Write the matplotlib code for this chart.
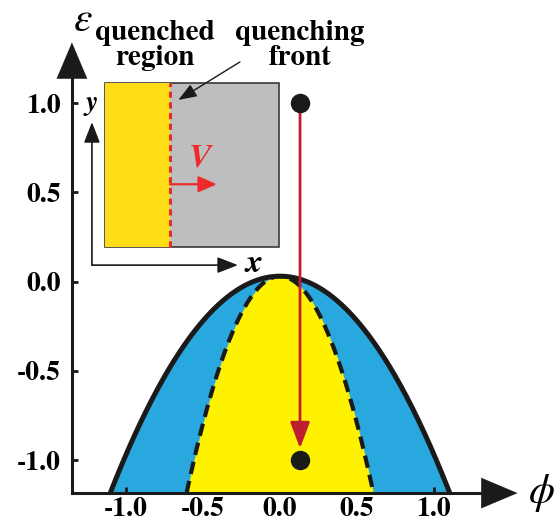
import numpy as np
import matplotlib
matplotlib.use("Agg")
import matplotlib.pyplot as plt
from matplotlib.patches import Rectangle

plt.rcParams['font.family'] = ['STIXGeneral', 'DejaVu Serif']
plt.rcParams['mathtext.fontset'] = 'stix'

# phase diagram: binodal / spinodal  eps = top - k*phi^2
eps_top = 0.03
k_binodal = 1.0
k_spinodal = 3.3
eps_floor = -1.185

# quench path
quench_phi = 0.13
quench_eps = [1.0, -1.0]

xticks = [-1.0, -0.5, 0.0, 0.5, 1.0]
yticks = [-1.0, -0.5, 0.0, 0.5, 1.0]
ticklabels = ["-1.0", "-0.5", "0.0", "0.5", "1.0"]

blue = "#29a8df"
yellow = "#fff200"
red = "#be1e2d"
ink = "#1a1a1a"

fig = plt.figure(figsize=(5.54, 5.22), dpi=100)
ax = fig.add_axes([0, 0, 1, 1])
ax.set_xlim(-1.818, 1.779)
ax.set_ylim(-1.347, 1.577)

# curves
phi_b = np.sqrt((eps_top - eps_floor) / k_binodal)
phi_s = np.sqrt((eps_top - eps_floor) / k_spinodal)
pb = np.linspace(-phi_b, phi_b, 400)
ps = np.linspace(-phi_s, phi_s, 400)
eb = eps_top - k_binodal * pb**2
es = eps_top - k_spinodal * ps**2
ax.fill_between(pb, eps_floor, eb, color=blue, lw=0, zorder=1)
ax.fill_between(ps, eps_floor, es, color=yellow, lw=0, zorder=2)
ax.plot(pb, eb, color=ink, lw=3.6, zorder=3, solid_capstyle='butt')
ax.plot(ps, es, color=ink, lw=3.0, ls=(0, (3.0, 1.7)), zorder=3)

# axes as arrows
x0 = -1.351
ax.spines['left'].set_position(('data', x0))
ax.spines['bottom'].set_position(('data', eps_floor))
ax.spines['left'].set_bounds(eps_floor, 1.30)
ax.spines['bottom'].set_bounds(x0, 1.50)
for s in ['left', 'bottom']:
    ax.spines[s].set_linewidth(2.2)
    ax.spines[s].set_color(ink)
    ax.spines[s].set_zorder(5)
ax.spines['top'].set_visible(False)
ax.spines['right'].set_visible(False)
ax.annotate("", xy=(x0, 1.355), xytext=(x0, 1.20),
            arrowprops=dict(arrowstyle="-|>,head_length=1.3,head_width=0.55",
                            color=ink, lw=0.1, mutation_scale=20))
ax.annotate("", xy=(1.56, eps_floor), xytext=(1.40, eps_floor),
            arrowprops=dict(arrowstyle="-|>,head_length=1.3,head_width=0.55",
                            color=ink, lw=0.1, mutation_scale=20))

ax.set_xticks(xticks)
ax.set_xticklabels(ticklabels, fontweight='bold', fontsize=20)
ax.set_yticks(yticks)
ax.set_yticklabels(ticklabels, fontweight='bold', fontsize=20)
ax.tick_params(direction='in', length=4, width=2, color=ink)
ax.tick_params(axis='x', pad=3)
ax.tick_params(axis='y', pad=8)

ax.text(-1.28, 1.46, r"$\varepsilon$", fontsize=30, ha='center', va='center')
ax.text(1.70, eps_floor, r"$\phi$", fontsize=30, ha='center', va='center')

# quench path
ax.annotate("", xy=(quench_phi, quench_eps[1] + 0.05),
            xytext=(quench_phi, quench_eps[0]),
            arrowprops=dict(arrowstyle="-|>,head_length=0.8,head_width=0.3",
                            color=red, lw=2.0, mutation_scale=20), zorder=6)
ax.plot([quench_phi] * 2, quench_eps, 'o', color=ink, ms=13, zorder=7)

# inset sketch
ax.add_patch(Rectangle((-1.136, 0.193), 1.13, 0.919, facecolor="#bcbec0",
                       edgecolor="#3a3a3a", lw=1.2, zorder=4))
ax.add_patch(Rectangle((-1.136, 0.193), 0.422, 0.919, facecolor="#fedd16",
                       edgecolor='none', zorder=4))
ax.plot([-0.714, -0.714], [0.193, 1.112], color="#ee2a2a", lw=2.2,
        ls=(0, (2, 1.5)), zorder=5)
ax.annotate("", xy=(-1.221, 0.893), xytext=(-1.221, 0.092),
            arrowprops=dict(arrowstyle="-|>,head_length=0.9,head_width=0.35",
                            color=ink, lw=1.2, mutation_scale=14,
                            shrinkA=0, shrinkB=0))
ax.annotate("", xy=(-0.273, 0.092), xytext=(-1.221, 0.092),
            arrowprops=dict(arrowstyle="-|>,head_length=0.9,head_width=0.35",
                            color=ink, lw=1.2, mutation_scale=14,
                            shrinkA=0, shrinkB=0))
ax.text(-1.22, 1.0, "y", style='italic', fontweight='bold', fontsize=20,
        ha='center', va='center')
ax.text(-0.17, 0.10, "x", style='italic', fontweight='bold', fontsize=24,
        ha='center', va='center')
ax.text(-0.52, 0.69, "V", style='italic', fontweight='bold', fontsize=24,
        color="#ee2a2a", ha='center', va='center', zorder=6)
ax.annotate("", xy=(-0.41, 0.545), xytext=(-0.714, 0.545),
            arrowprops=dict(arrowstyle="-|>,head_length=0.8,head_width=0.35",
                            color="#ee2a2a", lw=1.6, mutation_scale=14,
                            shrinkA=0, shrinkB=0), zorder=6)

ax.text(-0.81, 1.32, "quenched\nregion", fontsize=21, fontweight='bold',
        ha='center', va='center', linespacing=0.95)
ax.text(0.13, 1.32, "quenching\nfront", fontsize=21, fontweight='bold',
        ha='center', va='center', linespacing=0.95)
ax.annotate("", xy=(-0.66, 1.017), xytext=(-0.26, 1.23),
            arrowprops=dict(arrowstyle="-|>,head_length=0.8,head_width=0.3",
                            color=ink, lw=1.0, mutation_scale=14,
                            shrinkA=0, shrinkB=0), zorder=6)

fig.savefig("out.png", dpi=100)
